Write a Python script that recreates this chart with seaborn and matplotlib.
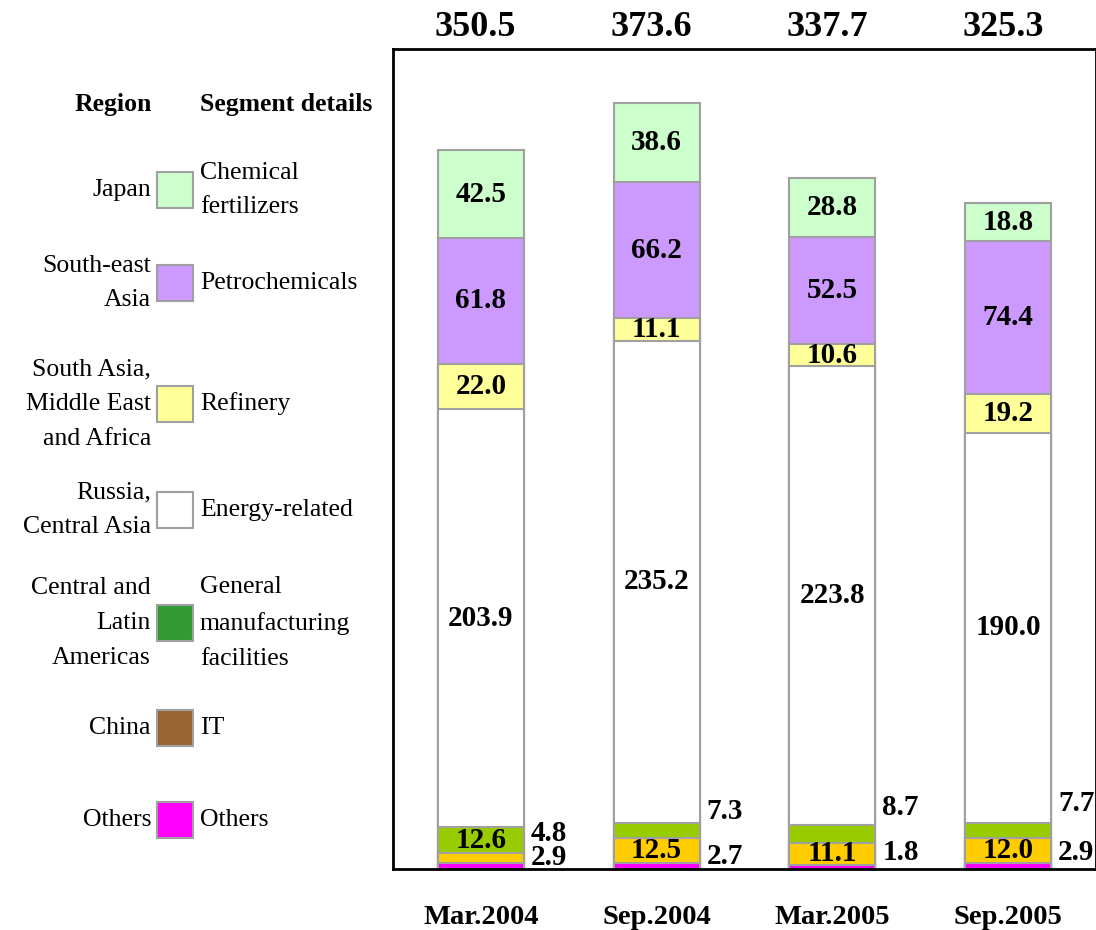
import numpy as np
import pandas as pd
import matplotlib
matplotlib.use("Agg")
import matplotlib.pyplot as plt
import matplotlib.transforms as mtransforms
from matplotlib.patches import Rectangle
import seaborn as sns

# ---------------- data ----------------
periods = ["Mar.2004", "Sep.2004", "Mar.2005", "Sep.2005"]
totals = ["350.5", "373.6", "337.7", "325.3"]

# stack segments, bottom to top
others = [2.9, 2.7, 1.8, 2.9]
it_seg = [4.8, 12.5, 11.1, 12.0]
general = [12.6, 7.3, 8.7, 7.7]
energy = [203.9, 235.2, 223.8, 190.0]
refinery = [22.0, 11.1, 10.6, 19.2]
petro = [61.8, 66.2, 52.5, 74.4]
fertilizer = [42.5, 38.6, 28.8, 18.8]

segments = [others, it_seg, general, energy, refinery, petro, fertilizer]
bar_colors = ["#FF00FF", "#FFCC00", "#99CC00", "#FFFFFF", "#FFFF99", "#CC99FF", "#CCFFCC"]

# legend
legend_regions = ["Japan", "South-east\nAsia", "South Asia,\nMiddle East\nand Africa",
                  "Russia,\nCentral Asia", "Central and\nLatin\nAmericas", "China", "Others"]
legend_segments = ["Chemical\nfertilizers", "Petrochemicals", "Refinery", "Energy-related",
                   "General\nmanufacturing\nfacilities", "IT", "Others"]
legend_colors = ["#CCFFCC", "#CC99FF", "#FFFF99", "#FFFFFF", "#339933", "#996633", "#FF00FF"]

# ---------------- layout ----------------
W, H = 1096, 930
legend_y_px = [190, 283, 404, 510, 623, 728, 820]
upper_out_y = [17.5, 28.0, 30.0, 32.0]   # y (data) for small non-"others" labels
bottom_out_y = [5.5, 6.0, 8.0, 8.0]     # y (data) for "others" labels

sns.set_style("white")
plt.rcParams["font.family"] = ["Liberation Serif", "DejaVu Serif"]
plt.rcParams["text.color"] = "black"
plt.rcParams["xtick.color"] = "black"

fig = plt.figure(figsize=(W / 100, H / 100), dpi=100)
ax_left, ax_bottom, ax_top = 393 / W, 1 - 869 / H, 1 - 49 / H
ax = fig.add_axes([ax_left, ax_bottom, 1.0 - ax_left, ax_top - ax_bottom])

cum = np.cumsum(np.array(segments), axis=0)
edge = "#A0A0A0"
bar_w = 0.49
for k in range(len(segments) - 1, -1, -1):
    df = pd.DataFrame({"period": periods, "value": cum[k]})
    sns.barplot(data=df, x="period", y="value", order=periods, color=bar_colors[k],
                saturation=1, width=bar_w, edgecolor=edge, linewidth=1.5,
                errorbar=None, ax=ax, zorder=2)

ax.set_xlim(-0.5, 3.5)
ax.set_ylim(0, 400)
ax.set_yticks([])
ax.set_ylabel("")
ax.set_xlabel("")
ax.tick_params(axis="x", length=0, pad=26, colors="black")
ax.set_xticks(range(len(periods)))
ax.set_xticklabels(periods, fontsize=20.5, fontweight="bold", color="black")
for s in ax.spines.values():
    s.set_visible(True)
    s.set_color("black")
    s.set_linewidth(2.0)

lab_kw = dict(fontsize=21, fontweight="bold", color="black", zorder=5)
for i in range(len(periods)):
    for k, seg in enumerate(segments):
        v = seg[i]
        center = cum[k][i] - v / 2
        if k == 0:
            ax.text(i + bar_w / 2 + 0.04, bottom_out_y[i], f"{v:.1f}", ha="left", va="center", **lab_kw)
        elif v >= 10:
            ax.text(i, center, f"{v:.1f}", ha="center", va="center", **lab_kw)
        else:
            ax.text(i + bar_w / 2 + 0.04, upper_out_y[i], f"{v:.1f}", ha="left", va="center", **lab_kw)

trans = mtransforms.blended_transform_factory(ax.transData, ax.transAxes)
for i, t in enumerate(totals):
    ax.text(i - 0.03, 1 + 22 / 820, t, transform=trans, ha="center", va="center",
            fontsize=26, fontweight="bold", color="black", clip_on=False)

# ---------------- legend (drawn on the figure) ----------------
fig.text(152 / W, 1 - 105 / H, "Region", ha="right", va="center", fontsize=18.5,
         fontweight="bold", color="black")
fig.text(200 / W, 1 - 105 / H, "Segment details", ha="left", va="center", fontsize=18.5,
         fontweight="bold", color="black")
for r, s, c, ypx in zip(legend_regions, legend_segments, legend_colors, legend_y_px):
    fig.patches.append(Rectangle((157 / W, 1 - (ypx + 18) / H), 36 / W, 36 / H,
                                 transform=fig.transFigure, facecolor=c, edgecolor=edge,
                                 linewidth=1.5))
    fig.text(151 / W, 1 - ypx / H, r, ha="right", va="center", fontsize=18.5,
             linespacing=1.75, color="black")
    fig.text(200 / W, 1 - ypx / H, s, ha="left", va="center", fontsize=18.5,
             linespacing=1.75, color="black")

fig.savefig("out.png", dpi=100)
